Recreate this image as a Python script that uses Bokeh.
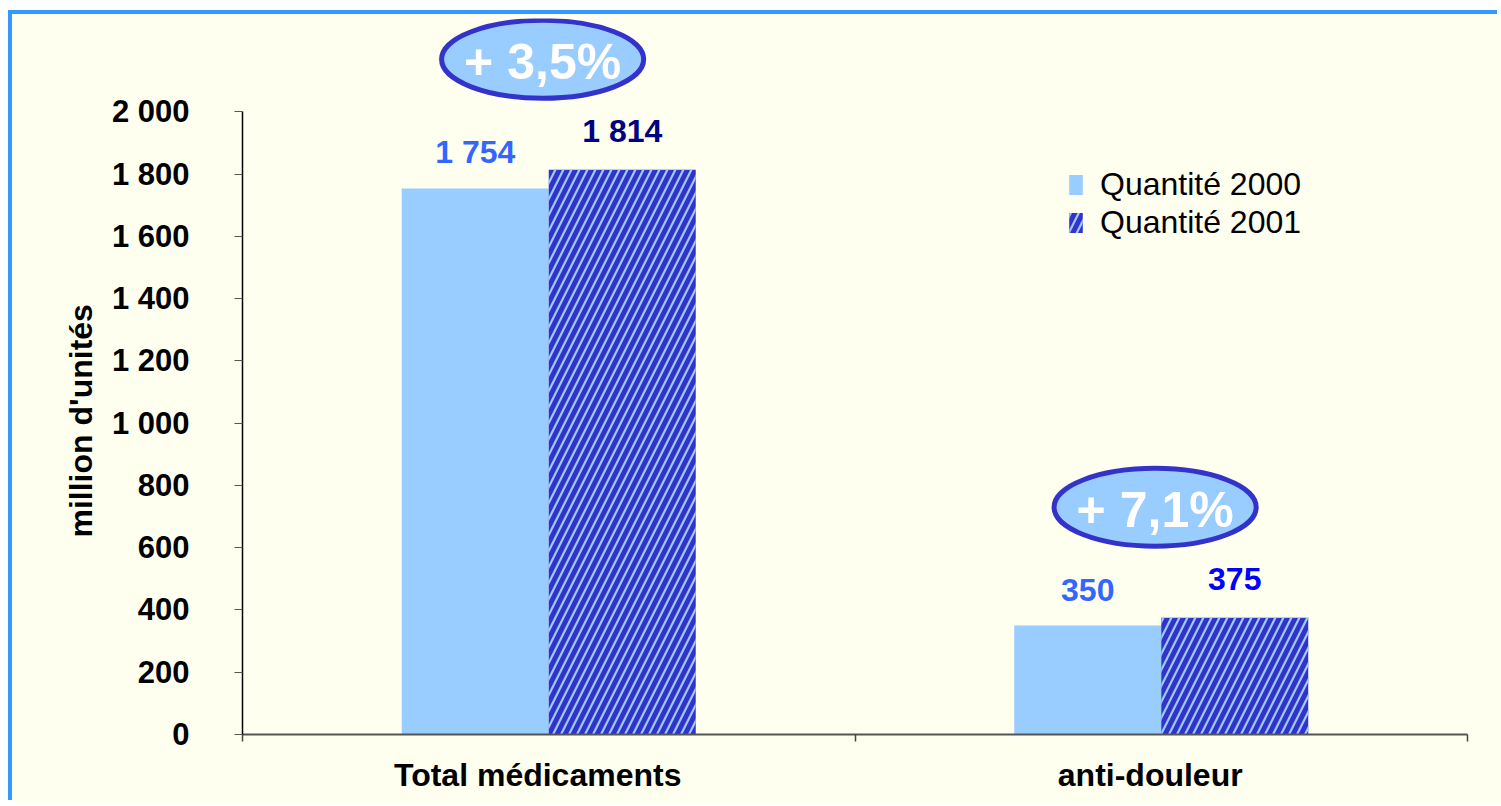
from bokeh.plotting import figure
from bokeh.models import Range1d, FixedTicker, Legend, LegendItem, Title
from bokeh.embed import file_html
from bokeh.resources import INLINE
from bokeh.core.properties import value

# ---- data ----
categories = ["Total médicaments", "anti-douleur"]
series_names = ["Quantité 2000", "Quantité 2001"]
qty_2000 = [1754, 350]
qty_2001 = [1814, 375]
labels_2000 = ["1 754", "350"]
labels_2001 = ["1 814", "375"]
growth_labels = ["+ 3,5%", "+ 7,1%"]
y_ticks = [0, 200, 400, 600, 800, 1000, 1200, 1400, 1600, 1800, 2000]
y_tick_labels = ["0", "200", "400", "600", "800", "1 000", "1 200", "1 400",
                 "1 600", "1 800", "2 000"]
y_title = "million d'unités"

# ---- styles ----
FONT = "Liberation Sans"
BG = "#FFFFF0"
C_LIGHT = "#99CCFF"
C_DARK = "#3333CC"
label_colors_2000 = ["#3366FF", "#3366FF"]
label_colors_2001 = ["#000080", "#0000FF"]

n = len(categories)
centers = [i + 0.5 for i in range(n)]
bar_w = 0.24
x_2000 = [c - bar_w / 2 for c in centers]
x_2001 = [c + bar_w / 2 for c in centers]

p = figure(width=1489, height=790, x_range=Range1d(0, n), y_range=Range1d(0, 2300),
           output_backend="svg", toolbar_location=None,
           min_border_left=230, min_border_right=34, min_border_top=4, min_border_bottom=70,
           background_fill_color=BG, border_fill_color=BG, outline_line_color=None)
p.styles = {"margin-left": "12px", "margin-top": "14px",
            "box-shadow": "-4px -4px 0px 0px #3399FF"}
p.grid.visible = False

r1 = p.vbar(x=x_2000, top=qty_2000, width=bar_w, bottom=0,
            fill_color=C_LIGHT, line_color=None)
r2 = p.vbar(x=x_2001, top=qty_2001, width=bar_w, bottom=0,
            fill_color=C_DARK, line_color=None,
            hatch_pattern="/", hatch_color=C_LIGHT, hatch_scale=16, hatch_weight=2.2)

# data labels
p.text(x=x_2000, y=qty_2000, text=labels_2000, text_color=label_colors_2000,
       text_font=value(FONT), text_font_style="bold", text_font_size="32px",
       text_align="center", text_baseline="alphabetic", y_offset=-36)
p.text(x=x_2001, y=qty_2001, text=labels_2001, text_color=label_colors_2001,
       text_font=value(FONT), text_font_style="bold", text_font_size="32px",
       text_align="center", text_baseline="alphabetic", y_offset=-39)

# growth ellipses
ell_x = [c - 0.01 for c in centers]
ell_y = [max(a, b) + 355 for a, b in zip(qty_2000, qty_2001)]
p.ellipse(x=ell_x, y=ell_y, width=0.33, height=250,
          fill_color=C_LIGHT, line_color=C_DARK, line_width=5)
p.text(x=ell_x, y=ell_y, text=growth_labels, text_color="white",
       text_font=value(FONT), text_font_style="bold", text_font_size="50px",
       text_align="center", text_baseline="middle", y_offset=3)

# y axis
ya = p.yaxis[0]
ya.ticker = FixedTicker(ticks=y_ticks, minor_ticks=[])
ya.major_label_overrides = dict(zip(y_ticks, y_tick_labels))
ya.bounds = (0, 2000)
ya.major_tick_out = 8
ya.major_tick_in = 0
ya.minor_tick_out = 0
ya.minor_tick_in = 0
ya.major_tick_line_color = "#555555"
ya.axis_line_color = "black"
ya.axis_line_width = 1.5
ya.major_label_text_font = FONT
ya.major_label_text_font_style = "bold"
ya.major_label_text_font_size = "31px"
ya.major_label_text_color = "black"
ya.major_label_standoff = 45

# y title placed next to the axis, centred on the 0..2000 span
p.add_layout(Title(text=y_title, align="left", offset=197, vertical_align="middle",
                   text_font=FONT, text_font_style="bold", text_font_size="32px",
                   text_color="black", standoff=18), "left")

# x axis
xa = p.xaxis[0]
label_ticks = [c - 0.018 for c in centers]
xa.ticker = FixedTicker(ticks=label_ticks, minor_ticks=list(range(n + 1)))
xa.major_label_overrides = dict(zip(label_ticks, categories))
xa.major_tick_out = 0
xa.major_tick_in = 0
xa.minor_tick_out = 7
xa.minor_tick_in = 0
xa.minor_tick_line_color = "#444444"
xa.minor_tick_line_width = 1.5
xa.axis_line_color = "#555555"
xa.axis_line_width = 2
xa.major_label_text_font = FONT
xa.major_label_text_font_style = "bold"
xa.major_label_text_font_size = "32px"
xa.major_label_text_color = "black"
xa.major_label_standoff = 15

legend = Legend(items=[LegendItem(label=series_names[0], renderers=[r1]),
                       LegendItem(label=series_names[1], renderers=[r2])],
                location=(825, 493), glyph_width=17, glyph_height=25,
                label_height=38, spacing=0, padding=0, margin=0, label_standoff=16,
                label_text_font=FONT, label_text_font_size="32px",
                label_text_color="black",
                border_line_alpha=0, background_fill_alpha=0)
p.add_layout(legend)

open("out.html", "w").write(file_html(p, INLINE))
